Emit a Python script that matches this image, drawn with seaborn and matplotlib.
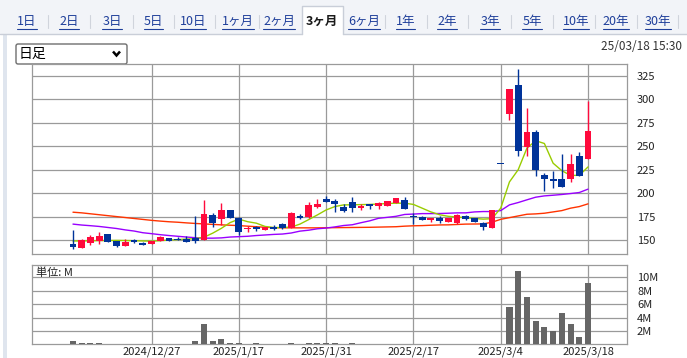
import matplotlib
matplotlib.use("Agg")
import matplotlib.pyplot as plt
import seaborn as sns
import numpy as np
import pandas as pd
from matplotlib.patches import Rectangle, FancyBboxPatch
from matplotlib.lines import Line2D

sns.set_theme(style="white")
plt.rcParams['font.family'] = ['Noto Sans CJK JP', 'DejaVu Sans']

# ---------------- data ----------------
open_ = [145.7, 141.8, 146.4, 149.3, 156.4, 148.9, 143.9, 150.0, 146.4, 145.4,
         149.3, 152.5, 151.4, 150.7, 151.8, 150.0, 176.8, 172.1, 182.1, 173.2,
         161.5, 163.6, 160.7, 163.9, 166.8, 162.5, 176.0, 174.3, 185.7, 193.9,
         192.1, 185.0, 190.4, 184.0, 188.3, 186.1, 186.8, 189.3, 192.9, 175.4,
         175.0, 171.4, 173.9, 169.6, 167.9, 175.4, 173.2, 167.9, 163.2, 231.0,
         284.7, 315.0, 249.3, 265.0, 219.7, 215.4, 215.4, 215.0, 240.0, 236.8]
high = [160.7, 150.7, 155.4, 158.2, 156.8, 148.9, 150.7, 151.4, 147.5, 148.9,
        154.0, 152.5, 152.9, 154.3, 175.7, 192.9, 178.6, 189.3, 182.5, 174.3,
        165.0, 165.0, 164.3, 165.7, 167.8, 180.3, 177.5, 190.4, 193.9, 197.5,
        193.9, 188.3, 196.0, 188.3, 188.3, 191.0, 191.8, 194.7, 195.4, 178.6,
        175.5, 173.9, 175.5, 173.9, 177.5, 176.8, 173.5, 169.6, 182.1, 231.0,
        310.8, 332.2, 290.4, 267.1, 221.5, 223.6, 241.8, 241.8, 244.0, 298.2]
low = [140.0, 141.8, 144.6, 145.7, 148.2, 142.8, 143.9, 146.5, 144.3, 145.4,
       149.3, 148.9, 149.6, 148.2, 147.1, 150.0, 164.3, 166.1, 173.2, 155.4,
       158.9, 159.6, 160.2, 160.5, 161.4, 162.5, 172.5, 173.2, 184.0, 190.4,
       179.7, 179.7, 179.7, 181.8, 183.2, 183.2, 186.8, 189.3, 183.2, 166.8,
       171.4, 169.0, 168.5, 169.6, 166.8, 171.0, 169.6, 160.7, 163.2, 231.0,
       277.9, 239.3, 239.3, 218.6, 202.8, 205.4, 207.1, 211.4, 217.9, 236.8]
close = [142.8, 150.0, 152.9, 154.3, 148.2, 143.9, 147.9, 147.5, 145.0, 148.9,
         153.6, 148.9, 149.6, 148.2, 149.3, 177.9, 167.9, 182.1, 173.2, 158.9,
         162.0, 161.5, 163.6, 161.4, 162.5, 178.9, 173.2, 187.5, 188.6, 191.0,
         188.3, 181.1, 184.6, 186.8, 186.1, 189.0, 191.8, 194.7, 183.2, 174.6,
         171.4, 173.9, 170.4, 173.9, 176.8, 172.5, 169.6, 164.3, 182.1, 231.0,
         310.8, 244.6, 265.0, 224.3, 215.0, 212.5, 207.1, 231.1, 217.9, 266.8]

ma_short = [149.0, 149.0, 149.2, 149.4, 149.5, 149.6, 149.5, 149.3, 149.0, 148.8,
            149.3, 150.0, 150.5, 151.0, 151.5, 153.0, 157.3, 162.5, 168.6, 172.3,
            169.6, 168.0, 164.5, 163.3, 163.4, 163.8, 167.0, 171.8, 176.8, 182.1,
            185.7, 187.5, 187.6, 187.8, 188.0, 188.4, 189.0, 189.3, 189.3, 188.0,
            184.0, 180.0, 177.0, 175.3, 174.5, 173.9, 173.0, 172.3, 172.8, 184.0,
            212.0, 225.0, 248.0, 256.0, 253.0, 232.0, 224.0, 219.0, 219.0, 228.0]
ma_mid = [167.0, 166.0, 165.3, 164.5, 163.4, 162.3, 160.8, 159.6, 157.8, 156.8,
          155.7, 154.8, 154.0, 153.2, 152.5, 152.0, 152.0, 152.3, 153.2, 153.6,
          154.0, 154.8, 155.4, 156.0, 156.4, 157.5, 159.5, 160.5, 162.0, 162.8,
          164.0, 165.5, 166.3, 168.5, 170.5, 173.2, 174.2, 175.3, 177.3, 177.7,
          178.2, 178.2, 178.3, 178.6, 179.0, 179.0, 180.0, 180.4, 180.4, 181.4,
          187.5, 190.0, 192.9, 195.7, 197.1, 197.8, 198.6, 199.6, 200.7, 204.3]
ma_long = [179.7, 179.0, 178.0, 177.0, 176.0, 175.0, 174.0, 173.0, 172.0, 171.0,
           170.2, 169.5, 169.0, 168.3, 167.7, 167.2, 166.7, 166.2, 165.8, 165.4,
           164.8, 164.2, 163.6, 163.2, 163.0, 163.0, 163.0, 163.0, 163.0, 163.1,
           163.2, 163.3, 163.4, 163.5, 163.6, 163.8, 164.0, 164.2, 164.8, 165.2,
           165.4, 165.8, 166.1, 166.2, 166.6, 167.0, 167.1, 167.2, 169.0, 172.1,
           173.9, 175.7, 177.5, 177.9, 178.6, 180.0, 181.4, 184.0, 185.7, 188.6]

volume_m = [0.5, 0.2, 0.2, 0.2, 0.05, 0.05, 0.05, 0.05, 0.05, 0.05,
            0.05, 0.05, 0.05, 0.05, 0.45, 3.1, 0.55, 0.75, 0.25, 0.25,
            0.05, 0.25, 0.05, 0.05, 0.05, 0.25, 0.05, 0.25, 0.25, 0.25,
            0.25, 0.05, 0.25, 0.05, 0.05, 0.05, 0.05, 0.05, 0.05, 0.05,
            0.05, 0.05, 0.05, 0.05, 0.05, 0.05, 0.05, 0.05, 0.05, 0.1,
            5.6, 11.0, 7.1, 3.5, 2.6, 2.0, 4.6, 3.1, 1.1, 9.2]

date_labels = ["2024/12/27", "2025/1/17", "2025/1/31", "2025/2/17", "2025/3/4", "2025/3/18"]
date_label_idx = [9, 19, 29, 39, 49, 59]
price_ticks = [150, 175, 200, 225, 250, 275, 300, 325]
vol_ticks = [2, 4, 6, 8, 10]
tabs = ["1日", "2日", "3日", "5日", "10日", "1ヶ月", "2ヶ月", "3ヶ月", "6ヶ月",
        "1年", "2年", "3年", "5年", "10年", "20年", "30年"]
selected_tab = "3ヶ月"

# ---------------- figure ----------------
W, H = 687, 358
fig = plt.figure(figsize=(W / 100, H / 100), dpi=100)
fig.patch.set_facecolor("white")

# background overlay axes in pixel coordinates
bg = fig.add_axes([0, 0, 1, 1], zorder=0)
bg.set_xlim(0, W)
bg.set_ylim(H, 0)
bg.axis("off")

bg.add_patch(Rectangle((0, 0), W, 34, facecolor="#f2f4f8", edgecolor="none"))
bg.add_line(Line2D([0, 301.5], [34, 34], color="#c9ced8", lw=1))
bg.add_line(Line2D([343, W], [34, 34], color="#c9ced8", lw=1))
bg.add_patch(Rectangle((301.5, 6), 41.5, 29, facecolor="white", edgecolor="none"))
bg.add_line(Line2D([301.5, 301.5, 343, 343], [34, 6, 6, 34], color="#c9ced8", lw=1))
bg.add_patch(Rectangle((3, 34), 4, H - 34, facecolor="#dfe5ee", edgecolor="none"))

tab_x = [27, 69, 112, 153.5, 193, 238, 279, 321.5, 364, 405.7, 447, 490, 532, 576, 616, 658]
sep_x = [48, 90, 132.5, 174, 215, 259, 385, 427, 468, 511, 553, 595, 637, 678]
for sx in sep_x:
    bg.add_line(Line2D([sx, sx], [15, 28], color="#d0d4dc", lw=0.8))

fig.canvas.draw()
renderer = fig.canvas.get_renderer()
for label, tx in zip(tabs, tab_x):
    if label == selected_tab:
        bg.text(tx, 21, label, ha="center", va="center", fontsize=9,
                fontweight="bold", color="#1a1a1a")
    else:
        t = bg.text(tx, 21, label, ha="center", va="center", fontsize=9, color="#1f3f9a")
        bb = t.get_window_extent(renderer=renderer)
        bg.add_line(Line2D([bb.x0, bb.x1], [28.5, 28.5], color="#1f3f9a", lw=0.8))

# dropdown
bg.add_patch(FancyBboxPatch((16, 44), 111, 20, boxstyle="round,pad=0,rounding_size=2",
                            facecolor="white", edgecolor="#6e6e6e", lw=1))
bg.text(19, 54, "日足", ha="left", va="center", fontsize=10, color="black")
bg.add_line(Line2D([113, 116.5, 120], [51.5, 55.5, 51.5], color="black", lw=1.8,
                   solid_capstyle="butt", solid_joinstyle="miter"))
bg.text(682, 47, "25/03/18 15:30", ha="right", va="center", fontsize=8.5, color="#333333")

# ---------------- price pane ----------------
grid_c = "#9a9a9a"
L, R = 32.3, 627.3
ax = fig.add_axes([L / W, 1 - 254 / H, (R - L) / W, (254 - 64.3) / H], zorder=2)
axv = fig.add_axes([L / W, 1 - 344.3 / H, (R - L) / W, (344.3 - 265) / H], zorder=2)

idx = np.arange(len(close))
df = pd.DataFrame({"idx": idx, "open": open_, "high": high, "low": low, "close": close,
                   "ma_short": ma_short, "ma_mid": ma_mid, "ma_long": ma_long,
                   "volume": volume_m})
up_c, dn_c = "#ff0a3c", "#003399"
colors = [up_c if c > o else dn_c for o, c in zip(df["open"], df["close"])]

ax.set_xlim(-4.66, 63.5)
ax.set_ylim(135.1, 337.5)
ax.set_axisbelow(True)
ax.set_xticks(date_label_idx)
ax.set_yticks(price_ticks)
ax.grid(True, color=grid_c, lw=0.9)
for s in ax.spines.values():
    s.set_color(grid_c)
    s.set_linewidth(0.9)
ax.yaxis.tick_right()
ax.tick_params(axis="y", length=0, pad=7, labelsize=8, labelcolor="#222222")
ax.tick_params(axis="x", length=0, labelbottom=False)
ax.set_facecolor("white")

sns.lineplot(data=df, x="idx", y="ma_long", color="#ff3300", lw=1.0, ax=ax, zorder=3)
sns.lineplot(data=df, x="idx", y="ma_mid", color="#9900ff", lw=1.0, ax=ax, zorder=3)
sns.lineplot(data=df, x="idx", y="ma_short", color="#99cc00", lw=1.0, ax=ax, zorder=3)

ax.vlines(df["idx"], df["low"], df["high"], colors=colors, lw=1.0, zorder=4)
body_bottom = np.minimum(df["open"], df["close"])
body_h = np.maximum(np.abs(df["close"] - df["open"]), 1.0)
ax.bar(df["idx"], body_h, bottom=body_bottom, width=0.78, color=colors, lw=0, zorder=5)
ax.set_xlabel("")
ax.set_ylabel("")

# ---------------- volume pane ----------------
axv.set_xlim(-4.66, 63.5)
axv.set_ylim(0, 11.84)
axv.set_axisbelow(True)
axv.set_xticks(date_label_idx)
axv.set_xticklabels(date_labels)
axv.set_yticks(vol_ticks)
axv.set_yticklabels([f"{v}M" for v in vol_ticks])
axv.grid(True, color=grid_c, lw=0.9)
for s in axv.spines.values():
    s.set_color(grid_c)
    s.set_linewidth(0.9)
axv.yaxis.tick_right()
axv.tick_params(axis="y", length=0, pad=7, labelsize=8, labelcolor="#222222")
axv.tick_params(axis="x", length=0, pad=1.5, labelsize=8, labelcolor="#222222")
axv.bar(df["idx"], df["volume"], width=0.7, color="#666666", lw=0, zorder=3)
axv.text(0.006, 0.965, "単位: M", transform=axv.transAxes, ha="left", va="top",
         fontsize=8, color="#222222")
axv.set_xlabel("")
axv.set_ylabel("")

fig.savefig("out.png", dpi=100, facecolor="white")
